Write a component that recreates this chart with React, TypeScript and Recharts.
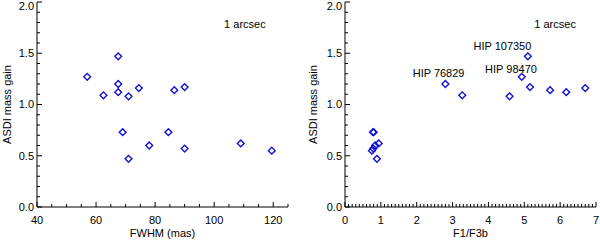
import React from 'react';
import { ScatterChart, Scatter, XAxis, YAxis, ReferenceDot } from 'recharts';

// ASDI mass gain per star, same order in both panels
const gain = [1.27, 1.09, 1.47, 1.2, 1.12, 0.73, 1.08, 0.47, 1.16, 0.6, 0.73, 1.14, 1.17, 0.57, 0.62, 0.55];
const fwhm = [57, 62.5, 67.5, 67.5, 67.5, 69, 71, 71, 74.5, 78, 84.5, 86.5, 90, 90, 109, 119.5];
const fluxRatio = [4.93, 3.27, 5.1, 2.8, 6.17, 0.78, 4.59, 0.89, 6.7, 0.84, 0.8, 5.72, 5.16, 0.79, 0.94, 0.75];

const fwhmTicks = [40, 60, 80, 100, 120];
const ratioTicks = [0, 1, 2, 3, 4, 5, 6, 7];
const gainTicks = [0, 0.5, 1, 1.5, 2];

const starNames = ['HIP 107350', 'HIP 76829', 'HIP 98470'];
const starLabelX = [4.39, 2.61, 4.63];
const starLabelY = [1.574, 1.31, 1.343];

const BLUE = '#1212d8';
const FONT = '"Liberation Sans", Arial, sans-serif';
const MAJOR = 5;
const MINOR = 3;

const range = (from: number, to: number, step: number) => {
  const out: number[] = [];
  for (let v = from; v <= to + 1e-9; v += step) out.push(Math.round(v * 1000) / 1000);
  return out;
};

const isMajor = (v: number, majors: number[]) => majors.some((m) => Math.abs(m - v) < 1e-6);

type Side = 'bottom' | 'top' | 'left' | 'right';

const makeTick = (side: Side, majors: number[], labels: boolean, fmt: (v: number) => string) => (props: any) => {
  const { x, y, payload } = props;
  const v = payload.value as number;
  const major = isMajor(v, majors);
  const len = major ? MAJOR : MINOR;
  let x2 = x;
  let y2 = y;
  if (side === 'bottom') y2 = y - len;
  if (side === 'top') y2 = y + len;
  if (side === 'left') x2 = x + len;
  if (side === 'right') x2 = x - len;
  return (
    <g>
      <line x1={x} y1={y} x2={x2} y2={y2} stroke="#000" strokeWidth={1} />
      {labels && major && side === 'bottom' && (
        <text x={x} y={y + 9} dy="0.71em" textAnchor="middle" fontSize={11} fontFamily={FONT} fill="#000">
          {fmt(v)}
        </text>
      )}
      {labels && major && side === 'left' && (
        <text x={x - 3} y={Math.max(y, 6)} dy="0.355em" textAnchor="end" fontSize={11} fontFamily={FONT} fill="#000">
          {fmt(v)}
        </text>
      )}
    </g>
  );
};

const Diamond = (p: any) => {
  const { cx, cy } = p;
  const r = 3.4;
  return (
    <path
      d={`M${cx},${cy - r}L${cx + r},${cy}L${cx},${cy + r}L${cx - r},${cy}Z`}
      fill="none"
      stroke={BLUE}
      strokeWidth={1.4}
    />
  );
};

const textLabel = (value: string) => ({
  value,
  position: 'center' as const,
  fill: '#000',
  fontSize: 11,
  fontFamily: FONT,
});

interface PanelProps {
  data: Array<{ x: number; y: number }>;
  xDomain: [number, number];
  xMajor: number[];
  xMinorStep: number;
  xFmt: (v: number) => string;
  xTitle: string;
  yAxisWidth: number;
  rightMargin: number;
  yTitleOffset: number;
  children?: React.ReactNode;
}

const Panel = ({ data, xDomain, xMajor, xMinorStep, xFmt, xTitle, yAxisWidth, rightMargin, yTitleOffset, children }: PanelProps) => {
  const xAll = range(xDomain[0], xDomain[1], xMinorStep);
  const yAll = range(0, 2, 0.1);
  const yFmt = (v: number) => v.toFixed(1);
  return (
    <ScatterChart width={300} height={240} margin={{ top: 2, right: rightMargin, bottom: 0, left: 0 }}>
      <XAxis
        xAxisId="top"
        orientation="top"
        type="number"
        dataKey="x"
        domain={xDomain}
        ticks={xAll}
        interval={0}
        height={0}
        tickSize={0}
        tickMargin={0}
        tickLine={false}
        axisLine={{ stroke: '#000' }}
        tick={makeTick('top', xMajor, false, xFmt)}
      />
      <YAxis
        yAxisId="right"
        orientation="right"
        type="number"
        dataKey="y"
        domain={[0, 2]}
        ticks={yAll}
        interval={0}
        width={0}
        tickSize={0}
        tickMargin={0}
        tickLine={false}
        axisLine={{ stroke: '#000' }}
        tick={makeTick('right', gainTicks, false, yFmt)}
      />
      <XAxis
        type="number"
        dataKey="x"
        domain={xDomain}
        ticks={xAll}
        interval={0}
        height={33}
        tickSize={0}
        tickMargin={0}
        tickLine={false}
        axisLine={{ stroke: '#000' }}
        tick={makeTick('bottom', xMajor, true, xFmt)}
        label={{ value: xTitle, position: 'insideBottom', offset: 3, fill: '#000', fontSize: 11, fontFamily: FONT }}
      />
      <YAxis
        type="number"
        dataKey="y"
        domain={[0, 2]}
        ticks={yAll}
        interval={0}
        width={yAxisWidth}
        tickSize={0}
        tickMargin={0}
        tickLine={false}
        axisLine={{ stroke: '#000' }}
        tick={makeTick('left', gainTicks, true, yFmt)}
        label={{
          value: 'ASDI mass gain',
          angle: -90,
          position: 'insideLeft',
          offset: yTitleOffset,
          textAnchor: 'middle',
          fill: '#000',
          fontSize: 11,
          fontFamily: FONT,
        }}
      />
      <Scatter data={data} shape={Diamond} isAnimationActive={false} />
      {children}
    </ScatterChart>
  );
};

export default function App() {
  const left = fwhm.map((x, i) => ({ x, y: gain[i] }));
  const right = fluxRatio.map((x, i) => ({ x, y: gain[i] }));
  return (
    <div style={{ position: 'absolute', left: 0, top: 0, width: 600, height: 240, display: 'flex', background: '#fff' }}>
      <Panel
        data={left}
        xDomain={[40, 125]}
        xMajor={fwhmTicks}
        xMinorStep={5}
        xFmt={(v) => String(v)}
        xTitle="FWHM (mas)"
        yAxisWidth={37}
        rightMargin={12}
        yTitleOffset={7}
      >
        <ReferenceDot x={110.4} y={1.785} r={0} fill="none" stroke="none" label={textLabel('1 arcsec')} />
      </Panel>
      <Panel
        data={right}
        xDomain={[0, 7]}
        xMajor={ratioTicks}
        xMinorStep={0.1}
        xFmt={(v) => String(v)}
        xTitle="F1/F3b"
        yAxisWidth={45}
        rightMargin={4}
        yTitleOffset={13}
      >
        <ReferenceDot x={5.86} y={1.785} r={0} fill="none" stroke="none" label={textLabel('1 arcsec')} />
        {starNames.map((name, i) => (
          <ReferenceDot
            key={name}
            x={starLabelX[i]}
            y={starLabelY[i]}
            r={0}
            fill="none"
            stroke="none"
            label={textLabel(name)}
          />
        ))}
      </Panel>
    </div>
  );
}
